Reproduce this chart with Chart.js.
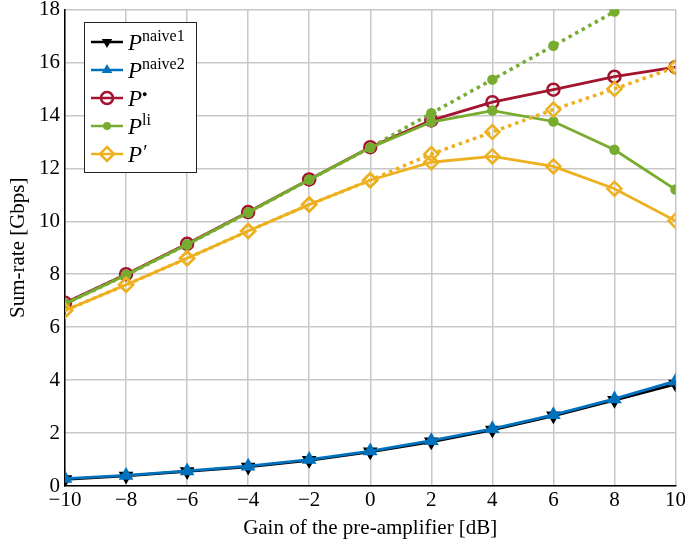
<!DOCTYPE html>
<html>
<head>
<meta charset="utf-8">
<script src="https://cdn.jsdelivr.net/npm/chart.js@4.4.1/dist/chart.umd.min.js"></script>
<style>
  html, body { margin: 0; padding: 0; background: #fff; }
  #wrap { position: relative; width: 685px; height: 546px; }
</style>
</head>
<body>
<div id="wrap"><canvas id="sumRate" width="685" height="546"></canvas></div>
<script>
// gain of the pre-amplifier [dB]
const gains = [-10, -8, -6, -4, -2, 0, 2, 4, 6, 8, 10];

// sum-rate [Gbps]
const naive1 = [0.25, 0.38, 0.55, 0.72, 0.97, 1.29, 1.67, 2.12, 2.65, 3.24, 3.85];
const naive2 = [0.28, 0.40, 0.57, 0.75, 1.00, 1.32, 1.71, 2.16, 2.69, 3.29, 3.96];
const pBullet = [6.92, 8.00, 9.15, 10.35, 11.58, 12.80, 13.81, 14.50, 14.97, 15.46, 15.82];
const pLi = [6.88, 7.97, 9.12, 10.33, 11.57, 12.78, 13.75, 14.18, 13.77, 12.70, 11.20];
const pLiDotted = [6.88, 7.97, 9.12, 10.33, 11.57, 12.78, 14.08, 15.35, 16.63, 17.92, 19.2];
const pPrime = [6.63, 7.60, 8.60, 9.63, 10.63, 11.55, 12.23, 12.45, 12.07, 11.23, 10.02];
const pPrimeDotted = [6.63, 7.60, 8.60, 9.63, 10.63, 11.55, 12.54, 13.37, 14.22, 15.00, 15.82];

const yTicks = [0, 2, 4, 6, 8, 10, 12, 14, 16, 18];

const BLACK = "#000000";
const BLUE = "#0072BD";
const RED = "#A2142F";
const GREEN = "#77AC30";
const YELLOW = "#EDB120";
const SERIF = "'Liberation Serif', 'DejaVu Serif', serif";

function pts(values) {
  return gains.map((g, i) => ({ x: g, y: values[i] }));
}

const legendItems = [
  { sup: "naive1", color: BLACK, style: "triangle", rot: 180, r: 6, fill: true },
  { sup: "naive2", color: BLUE, style: "triangle", rot: 0, r: 6, fill: true },
  { sup: "\u25CF", color: RED, style: "circle", rot: 0, r: 6, fill: false },
  { sup: "li", color: GREEN, style: "circle", rot: 0, r: 4, fill: true },
  { sup: "\u2032", color: YELLOW, style: "rectRot", rot: 0, r: 7, fill: false, prime: true }
];

function drawMarker(ctx, item, x, y) {
  ctx.save();
  ctx.translate(x, y);
  ctx.rotate(item.rot * Math.PI / 180);
  ctx.beginPath();
  const r = item.r;
  if (item.style === "circle") {
    ctx.arc(0, 0, r, 0, Math.PI * 2);
  } else if (item.style === "triangle") {
    ctx.moveTo(0, -r);
    ctx.lineTo(r * 0.866, r * 0.5);
    ctx.lineTo(-r * 0.866, r * 0.5);
    ctx.closePath();
  } else {
    ctx.moveTo(0, -r);
    ctx.lineTo(r, 0);
    ctx.lineTo(0, r);
    ctx.lineTo(-r, 0);
    ctx.closePath();
  }
  ctx.lineWidth = 2.5;
  ctx.strokeStyle = item.color;
  if (item.fill) {
    ctx.fillStyle = item.color;
    ctx.fill();
  } else {
    ctx.stroke();
  }
  ctx.restore();
}

const legendBox = {
  id: "legendBox",
  afterDraw(chart) {
    const ctx = chart.ctx;
    const x0 = 84, y0 = 22, w = 112, h = 150;
    ctx.save();
    ctx.fillStyle = "#fff";
    ctx.fillRect(x0, y0, w, h);
    ctx.strokeStyle = "#222";
    ctx.lineWidth = 1;
    ctx.strokeRect(x0 + 0.5, y0 + 0.5, w, h);

    legendItems.forEach((item, i) => {
      const y = 42 + i * 28;
      ctx.beginPath();
      ctx.moveTo(91, y);
      ctx.lineTo(123, y);
      ctx.strokeStyle = item.color;
      ctx.lineWidth = 2.5;
      ctx.stroke();
      drawMarker(ctx, item, 107, y);

      ctx.fillStyle = "#000";
      ctx.textBaseline = "alphabetic";
      ctx.textAlign = "left";
      ctx.font = "italic 23px " + SERIF;
      ctx.fillText("P", 128, y + 8);
      const pw = ctx.measureText("P").width;
      if (item.prime) {
        ctx.font = "italic 20px " + SERIF;
        ctx.fillText("\u2032", 128 + pw, y + 5);
      } else if (item.sup === "\u25CF") {
        ctx.font = "9px " + SERIF;
        ctx.fillText(item.sup, 128 + pw, y - 1);
      } else {
        ctx.font = "16px " + SERIF;
        ctx.fillText(item.sup, 128 + pw, y - 1);
      }
    });
    ctx.restore();
  }
};

const lineSet = (label, values, color, style, radius, fill, order, dotted, rot) => ({
  label,
  data: pts(values),
  borderColor: color,
  backgroundColor: fill ? color : "transparent",
  borderWidth: dotted ? 3.5 : 2.8,
  borderDash: dotted ? [3.5, 4] : [],
  borderCapStyle: "butt",
  pointStyle: style,
  pointRotation: rot || 0,
  pointRadius: radius,
  pointBorderWidth: 2.5,
  pointBackgroundColor: fill ? color : "transparent",
  pointBorderColor: color,
  tension: 0,
  order,
  clip: 0
});

new Chart(document.getElementById("sumRate"), {
  type: "line",
  data: {
    datasets: [
      lineSet("naive1", naive1, BLACK, "triangle", 6, true, 10, false, 180),
      lineSet("naive2", naive2, BLUE, "triangle", 6, true, 9, false, 0),
      lineSet("bullet", pBullet, RED, "circle", 6, false, 8, false, 0),
      lineSet("li dotted", pLiDotted, GREEN, "circle", 4, true, 7, true, 0),
      lineSet("li", pLi, GREEN, "circle", 4, true, 6, false, 0),
      lineSet("prime dotted", pPrimeDotted, YELLOW, "rectRot", 7, false, 5, true, 0),
      lineSet("prime", pPrime, YELLOW, "rectRot", 7, false, 4, false, 0)
    ]
  },
  options: {
    responsive: false,
    animation: false,
    layout: { padding: 0 },
    plugins: {
      legend: { display: false },
      tooltip: { enabled: false }
    },
    scales: {
      x: {
        type: "linear",
        min: -10,
        max: 10,
        afterFit: (axis) => {
          axis.height = 60;
          axis.paddingLeft = 0;
          axis.paddingRight = 8;
        },
        ticks: {
          stepSize: 2,
          color: "#000",
          font: { family: SERIF, size: 21 },
          padding: 2,
          maxRotation: 0,
          callback: (v) => String(v).replace("-", "\u2212")
        },
        grid: { color: "#c8c8c8", lineWidth: 1.5, drawTicks: false },
        border: { color: "#000", width: 1.5 },
        title: {
          display: true,
          text: "Gain of the pre-amplifier [dB]",
          color: "#000",
          font: { family: SERIF, size: 21 },
          padding: { top: 4, bottom: 5 }
        }
      },
      y: {
        min: 0,
        max: 18,
        afterBuildTicks: (axis) => { axis.ticks = yTicks.map(v => ({ value: v })); },
        afterFit: (axis) => {
          axis.width = 65;
          axis.paddingTop = 8;
          axis.paddingBottom = 0;
        },
        ticks: {
          color: "#000",
          font: { family: SERIF, size: 21 },
          padding: 5
        },
        grid: { color: "#c8c8c8", lineWidth: 1.5, drawTicks: false },
        border: { color: "#000", width: 1.5 },
        title: {
          display: true,
          text: "Sum-rate [Gbps]",
          color: "#000",
          font: { family: SERIF, size: 21 },
          padding: { top: 6, bottom: 4 }
        }
      }
    }
  },
  plugins: [legendBox]
});
</script>
</body>
</html>
